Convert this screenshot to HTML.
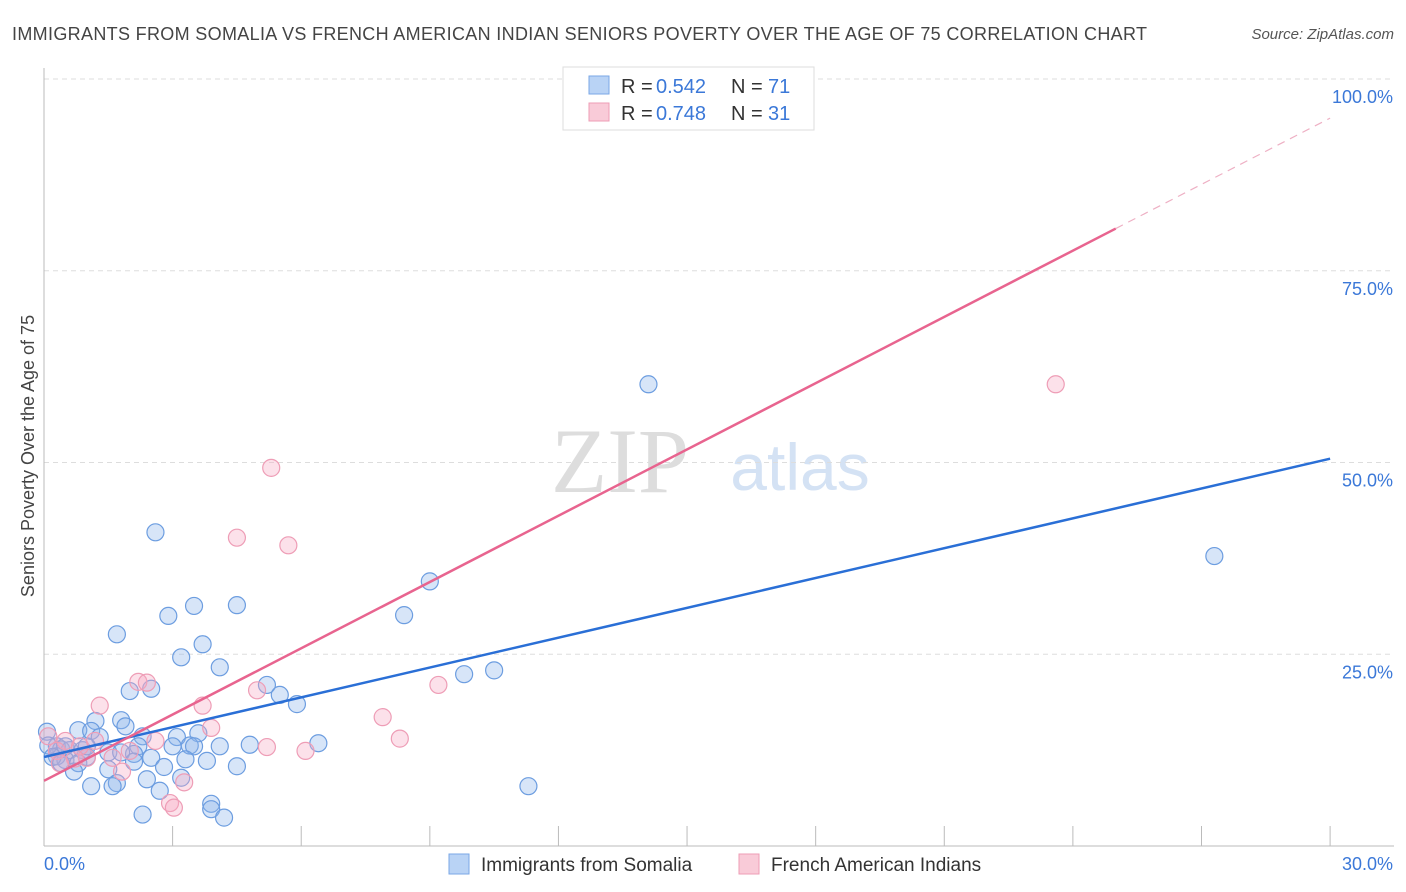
<!DOCTYPE html>
<html><head><meta charset="utf-8"><style>
body{margin:0;background:#fff;font-family:"Liberation Sans",sans-serif;}
svg{display:block}
</style></head><body>
<svg id="chart" width="1406" height="892">
<text x="12" y="40" font-size="18" fill="#444" textLength="1135" lengthAdjust="spacing">IMMIGRANTS FROM SOMALIA VS FRENCH AMERICAN INDIAN SENIORS POVERTY OVER THE AGE OF 75 CORRELATION CHART</text>
<text x="1394" y="39" font-size="15" fill="#555" text-anchor="end" font-style="italic">Source: ZipAtlas.com</text>
<text x="34" y="456" font-size="18" fill="#444" text-anchor="middle" transform="rotate(-90 34 456)">Seniors Poverty Over the Age of 75</text>
<text x="620" y="492" font-size="92" fill="#ddd" font-family="Liberation Serif,serif" text-anchor="middle">ZIP</text>
<text x="800" y="490" font-size="66" fill="#d4e2f4" text-anchor="middle">atlas</text>
<g id="grid"></g><g id="marks"></g>
<g>
<rect x="563" y="67" width="251" height="63" fill="#fff" stroke="#ddd"/>
<rect x="589" y="76" width="20" height="18" fill="#b9d3f5" stroke="#7aa7e6"/>
<rect x="589" y="103" width="20" height="18" fill="#f9cbd8" stroke="#ee9db6"/>
<text y="93" font-size="20" fill="#333"><tspan x="621">R =</tspan><tspan x="656" fill="#3b78d8">0.542</tspan><tspan x="731">N =</tspan><tspan x="768" fill="#3b78d8">71</tspan></text>
<text y="120" font-size="20" fill="#333"><tspan x="621">R =</tspan><tspan x="656" fill="#3b78d8">0.748</tspan><tspan x="731">N =</tspan><tspan x="768" fill="#3b78d8">31</tspan></text>
</g>
<g>
<rect x="449" y="854" width="20" height="20" fill="#b9d3f5" stroke="#7aa7e6"/>
<text x="481" y="871" font-size="19" fill="#333">Immigrants from Somalia</text>
<rect x="739" y="854" width="20" height="20" fill="#f9cbd8" stroke="#ee9db6"/>
<text x="771" y="871" font-size="19" fill="#333">French American Indians</text>
</g>
</svg>
<script>
const blueX=[2.6,14.1,27.3,9.0,8.4,4.5,3.5,2.9,1.7,3.7,3.2,4.1,2.0,2.5,5.2,5.5,5.9,9.8,10.5,1.2,1.8,1.9,0.8,1.1,1.3,2.3,3.1,3.6,6.4,4.8,4.1,3.4,3.5,3.0,2.2,0.3,0.4,0.6,0.9,1.5,2.1,2.5,3.3,3.8,0.3,0.5,0.8,1.5,2.8,4.5,0.7,1.1,1.7,2.4,3.2,1.6,2.7,3.9,3.9,4.2,2.3,11.3,0.07,0.1,0.2,0.4,1.8,1.0,0.5,2.1,1.0];
const blueY=[40.9,60.2,37.8,34.5,30.1,31.4,31.3,30.0,27.6,26.3,24.6,23.3,20.2,20.5,21.0,19.7,18.5,22.4,22.9,16.3,16.4,15.6,15.1,15.0,14.2,14.3,14.2,14.7,13.4,13.2,13.0,13.1,13.0,13.0,13.0,13.0,12.6,12.5,12.5,12.2,12.0,11.5,11.3,11.1,11.7,11.2,10.8,10.0,10.3,10.4,9.7,7.8,8.2,8.7,8.9,7.8,7.2,5.5,4.8,3.7,4.1,7.8,14.9,13.1,11.6,10.8,12.2,11.6,13.0,11.0,13.0];
const pinkX=[16.9,23.6,5.3,4.5,5.7,2.2,2.4,4.97,3.7,1.3,3.9,2.6,0.5,7.9,9.2,8.3,5.2,6.1,2.0,1.6,1.0,0.3,0.1,0.84,0.72,1.82,3.27,2.94,3.03,1.19,0.37];
const pinkY=[99.7,60.2,49.3,40.2,39.2,21.4,21.3,20.3,18.3,18.3,15.4,13.7,13.7,16.8,21.0,14.0,12.9,12.4,12.4,11.5,11.5,12.4,14.3,13.0,11.4,9.7,8.3,5.6,5.0,13.7,10.8];
const blueLine=[11.6,50.5];            // y at x=0 and x=30
const pinkLine=[8.5,2.88,25.0];        // intercept, slope, solid end
const xTicks=[0,30];
const yTicks=[25,50,75,100];
const X=v=>44+v*42.87, Y=v=>846-v*7.67;
const NS='http://www.w3.org/2000/svg';
function mk(p,t,a){const e=document.createElementNS(NS,t);for(const k in a)e.setAttribute(k,a[k]);p.appendChild(e);return e;}
const g=document.getElementById('grid'), m=document.getElementById('marks');
yTicks.forEach(v=>{
 const l=mk(g,'line',{x1:44,x2:1394,y1:Y(v),y2:Y(v),stroke:'#ddd','stroke-dasharray':'5,4'});
 
 
 const t=mk(g,'text',{x:1393,y:Y(v)+24,'font-size':18,fill:'#3b78d8','text-anchor':'end'});t.textContent=v.toFixed(1)+'%';
 
 
});
const ax=mk(g,'line',{x1:44,x2:44,y1:68,y2:846,stroke:'#bbb'});


const bx=mk(g,'line',{x1:44,x2:1394,y1:846,y2:846,stroke:'#bbb'});


for(let i=1;i<=10;i++){const tk=mk(g,'line',{x1:X(i*3),x2:X(i*3),y1:826,y2:846,stroke:'#bbb'});
 
 }
xTicks.forEach((v,i)=>{const t=mk(g,'text',{x:i?1393:44,y:870,'font-size':18,fill:'#3b78d8','text-anchor':i?'end':'start'});t.textContent=v.toFixed(1)+'%';
 
 });
blueX.forEach((v,i)=>{const c=mk(m,'circle',{cx:X(v),cy:Y(blueY[i]),r:8.5,fill:'rgba(140,180,235,0.35)',stroke:'#6c9de0','stroke-width':1.2});
 
 });
pinkX.forEach((v,i)=>{const c=mk(m,'circle',{cx:X(v),cy:Y(pinkY[i]),r:8.5,fill:'rgba(245,170,195,0.35)',stroke:'#ee9db6','stroke-width':1.2});
 
 });
const bl=mk(m,'line',{x1:X(0),y1:Y(blueLine[0]),x2:X(30),y2:Y(blueLine[1]),stroke:'#2a6fd6','stroke-width':2.5});


const pl=mk(m,'line',{x1:X(0),y1:Y(pinkLine[0]),x2:X(pinkLine[2]),y2:Y(pinkLine[0]+pinkLine[1]*pinkLine[2]),stroke:'#e8648f','stroke-width':2.5});


const pd=mk(m,'line',{x1:X(pinkLine[2]),y1:Y(pinkLine[0]+pinkLine[1]*pinkLine[2]),x2:X(30),y2:Y(pinkLine[0]+pinkLine[1]*30),stroke:'#eeb0c4','stroke-width':1.2,'stroke-dasharray':'8,6'});


</script>
</body></html>
